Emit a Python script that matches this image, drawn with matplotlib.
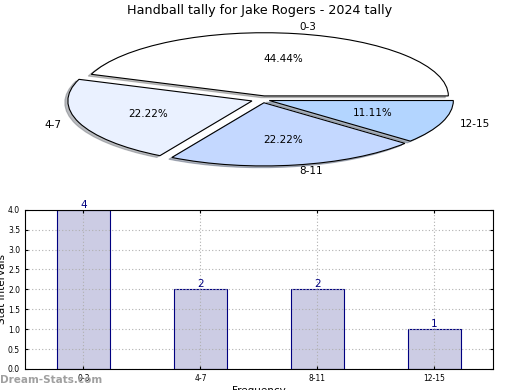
import matplotlib
matplotlib.use("Agg")
import matplotlib.pyplot as plt

labels = ['0-3', '4-7', '8-11', '12-15']
counts = [4, 2, 2, 1]
pie_colors = ['#ffffff', '#eaf1ff', '#c4d8ff', '#b3d5ff']
explode = [0.06, 0.06, 0.05, 0.04]

fig = plt.figure(figsize=(5.2, 3.9), dpi=100)

# pie on top, squashed (no equal aspect)
ax1 = fig.add_axes([0.062, 0.542, 0.885, 0.405])
ax1.pie(counts, labels=labels, colors=pie_colors, explode=explode,
        autopct='%1.2f%%', startangle=0,
        shadow={'ox': -0.012, 'oy': -0.02, 'shade': 0.5},
        wedgeprops={'edgecolor': 'black', 'linewidth': 0.8},
        textprops={'fontsize': 7.5})
ax1.set_aspect('auto')
ax1.set_xlim(-1.25, 1.25)
ax1.set_ylim(-1.25, 1.25)
fig.text(0.5, 0.974, 'Handball tally for Jake Rogers - 2024 tally',
         ha='center', va='center', fontsize=9.2)

# bar chart below
ax2 = fig.add_axes([0.048, 0.054, 0.9, 0.408])
x = list(range(len(labels)))
ax2.bar(x, counts, width=0.45, color='#ccccE4', edgecolor='navy', linewidth=0.8)
for xi, c in zip(x, counts):
    ax2.text(xi, c, str(c), ha='center', va='bottom', fontsize=7.5, color='navy')
ax2.set_xlim(-0.5, 3.5)
ax2.set_ylim(0, 4)
ax2.set_xticks(x)
ax2.set_xticklabels(labels)
ax2.set_yticks([0, 0.5, 1.0, 1.5, 2.0, 2.5, 3.0, 3.5, 4.0])
ax2.set_yticklabels(['0.0', '0.5', '1.0', '1.5', '2.0', '2.5', '3.0', '3.5', '4.0'])
ax2.tick_params(labelsize=5.5, direction='in', length=2, right=True, top=True)
ax2.grid(True, linestyle=(0, (1, 2)), color='#b0b0b0', linewidth=0.8)
ax2.set_xlabel('Frequency', fontsize=7.5, labelpad=2)
ax2.set_ylabel('Stat Intervals', fontsize=7.5, labelpad=1)

fig.text(0.0, 0.025, 'Dream-Stats.com', fontsize=7.5, color='#a0a0a0',
         fontweight='bold', va='center', ha='left')

fig.savefig('out.png', dpi=100)
